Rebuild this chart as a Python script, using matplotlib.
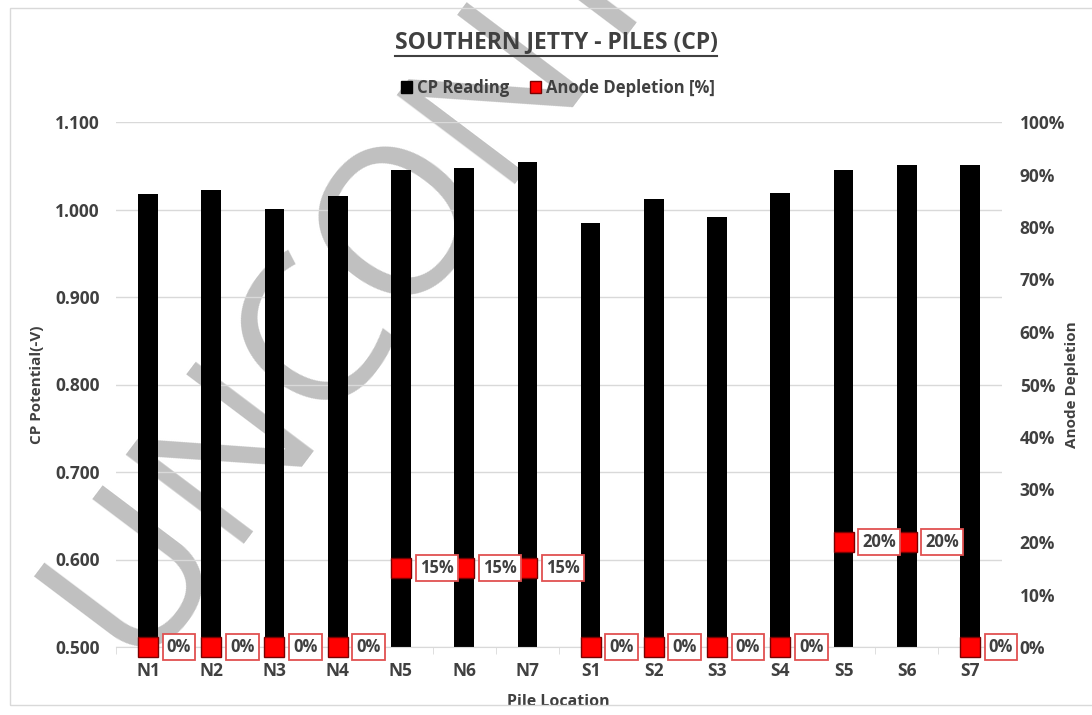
import numpy as np
import matplotlib
matplotlib.use('Agg')
import matplotlib.pyplot as plt
from matplotlib.ticker import FixedLocator, PercentFormatter
from matplotlib.lines import Line2D
from matplotlib.patches import Rectangle

# pile locations along the jetty
piles = ['N1', 'N2', 'N3', 'N4', 'N5', 'N6', 'N7',
         'S1', 'S2', 'S3', 'S4', 'S5', 'S6', 'S7']
# CP potential readings, -V
cp_reading = [1.018, 1.022, 1.001, 1.016, 1.045, 1.048, 1.054,
              0.985, 1.012, 0.991, 1.019, 1.045, 1.051, 1.051]
# anode depletion, fraction
anode_depletion = [0.00, 0.00, 0.00, 0.00, 0.15, 0.15, 0.15,
                   0.00, 0.00, 0.00, 0.00, 0.20, 0.20, 0.00]
cp_ticks = [0.5, 0.6, 0.7, 0.8, 0.9, 1.0, 1.1]
depletion_ticks = [0.0, 0.1, 0.2, 0.3, 0.4, 0.5, 0.6, 0.7, 0.8, 0.9, 1.0]

plt.rcParams['font.family'] = ['Open Sans', 'DejaVu Sans']
txt = '#404040'
grid = '#d9d9d9'

fig = plt.figure(figsize=(10.92, 7.15), dpi=100)
W, H = 1092, 715
ax = fig.add_axes([116.4 / W, (H - 647) / H, 885.2 / W, 525 / H])

x = np.arange(len(piles))
ax.bar(x, cp_reading, width=0.31, color='black', zorder=2)
ax.set_xlim(-0.5, len(piles) - 0.5)
ax.set_ylim(0.5, 1.1)
ax.set_yticks(cp_ticks)
ax.set_yticklabels([f'{v:.3f}' for v in cp_ticks])
ax.yaxis.grid(True, color=grid, lw=1)
ax.set_axisbelow('line')
ax.set_xticks(x)
ax.set_xticklabels(piles)
ax.xaxis.set_minor_locator(FixedLocator(np.arange(-0.5, len(piles), 1)))
ax.tick_params(axis='x', which='major', length=0, pad=11)
ax.tick_params(axis='x', which='minor', length=5, color=grid)
ax.tick_params(axis='y', length=0, pad=12)
for lab in ax.get_xticklabels() + ax.get_yticklabels():
    lab.set_fontsize(12.5)
    lab.set_fontweight('bold')
    lab.set_color(txt)
for s in ['left', 'right', 'top']:
    ax.spines[s].set_visible(False)
ax.spines['bottom'].set_color(grid)

ax.set_ylabel('CP Potential(-V)', fontsize=11, fontweight='bold', color=txt)
ax.yaxis.set_label_coords((37 - 116.4) / 885.2, 0.5)
ax.yaxis.label.set_va('center')
ax.set_xlabel('Pile Location', fontsize=11.5, fontweight='bold', color=txt)
ax.xaxis.set_label_coords((558 - 116.4) / 885.2, -(702 - 647) / 525)
ax.xaxis.label.set_va('center')

# watermark across the plot, under the bars
ax.text(0.1227, 0.0685, 'UNCONTROLLED', transform=fig.transFigure,
        rotation=53, rotation_mode='anchor', ha='left', va='baseline',
        fontsize=150, color='#c0c0c0', zorder=1.2, clip_on=False)

ax2 = ax.twinx()
ax2.set_ylim(0, 1)
ax2.set_yticks(depletion_ticks)
ax2.yaxis.set_major_formatter(PercentFormatter(1.0, decimals=0))
ax2.tick_params(axis='y', length=0, pad=13)
for lab in ax2.get_yticklabels():
    lab.set_fontsize(12.5)
    lab.set_fontweight('bold')
    lab.set_color(txt)
for s in ax2.spines.values():
    s.set_visible(False)
ax2.plot(x, anode_depletion, ls='none', marker='s', ms=14.4,
         mfc='#ff0000', mec='#7a0000', mew=1, zorder=3, clip_on=False)
for xi, v in zip(x, anode_depletion):
    ax2.annotate(f'{v:.0%}', (xi, v), xytext=(13.5, 0), textcoords='offset points',
                 ha='left', va='center', fontsize=12, fontweight='bold', color=txt,
                 bbox=dict(boxstyle='square,pad=0.25', fc='white', ec='#e05050', lw=1.3),
                 annotation_clip=False, zorder=4)
ax2.set_ylabel('Anode Depletion', fontsize=11, fontweight='bold', color=txt)
ax2.yaxis.set_label_coords((1072 - 116.4) / 885.2, 0.5)
ax2.yaxis.label.set_va('center')

# legend
handles = [Rectangle((0, 0), 1, 1, fc='black', ec='black'),
           Rectangle((0, 0), 1, 1, fc='#ff0000', ec='#7a0000')]
fig.legend(handles, ['CP Reading', 'Anode Depletion [%]'], loc='center',
           bbox_to_anchor=(558 / W, 1 - 88 / H), ncol=2, frameon=False,
           handlelength=0.7, handleheight=0.7, handletextpad=0.3,
           columnspacing=1.2, prop={'size': 12, 'weight': 'bold'}, labelcolor=txt)

# underlined title
title = fig.text(556 / W, 1 - 42 / H, 'SOUTHERN JETTY - PILES (CP)', ha='center',
                 va='center', fontsize=16.5, fontweight='bold', color=txt)
fig.canvas.draw()
bb = title.get_window_extent().transformed(fig.transFigure.inverted())
fig.add_artist(Line2D([bb.x0, bb.x1], [bb.y0 - 1.5 / H, bb.y0 - 1.5 / H],
                      color=txt, lw=1.5, transform=fig.transFigure))

# chart border
fig.add_artist(Rectangle((10 / W, (H - 705) / H), 1.0, 697 / H, fill=False,
                         ec=grid, lw=1, transform=fig.transFigure))

fig.savefig('out.png', dpi=100)
